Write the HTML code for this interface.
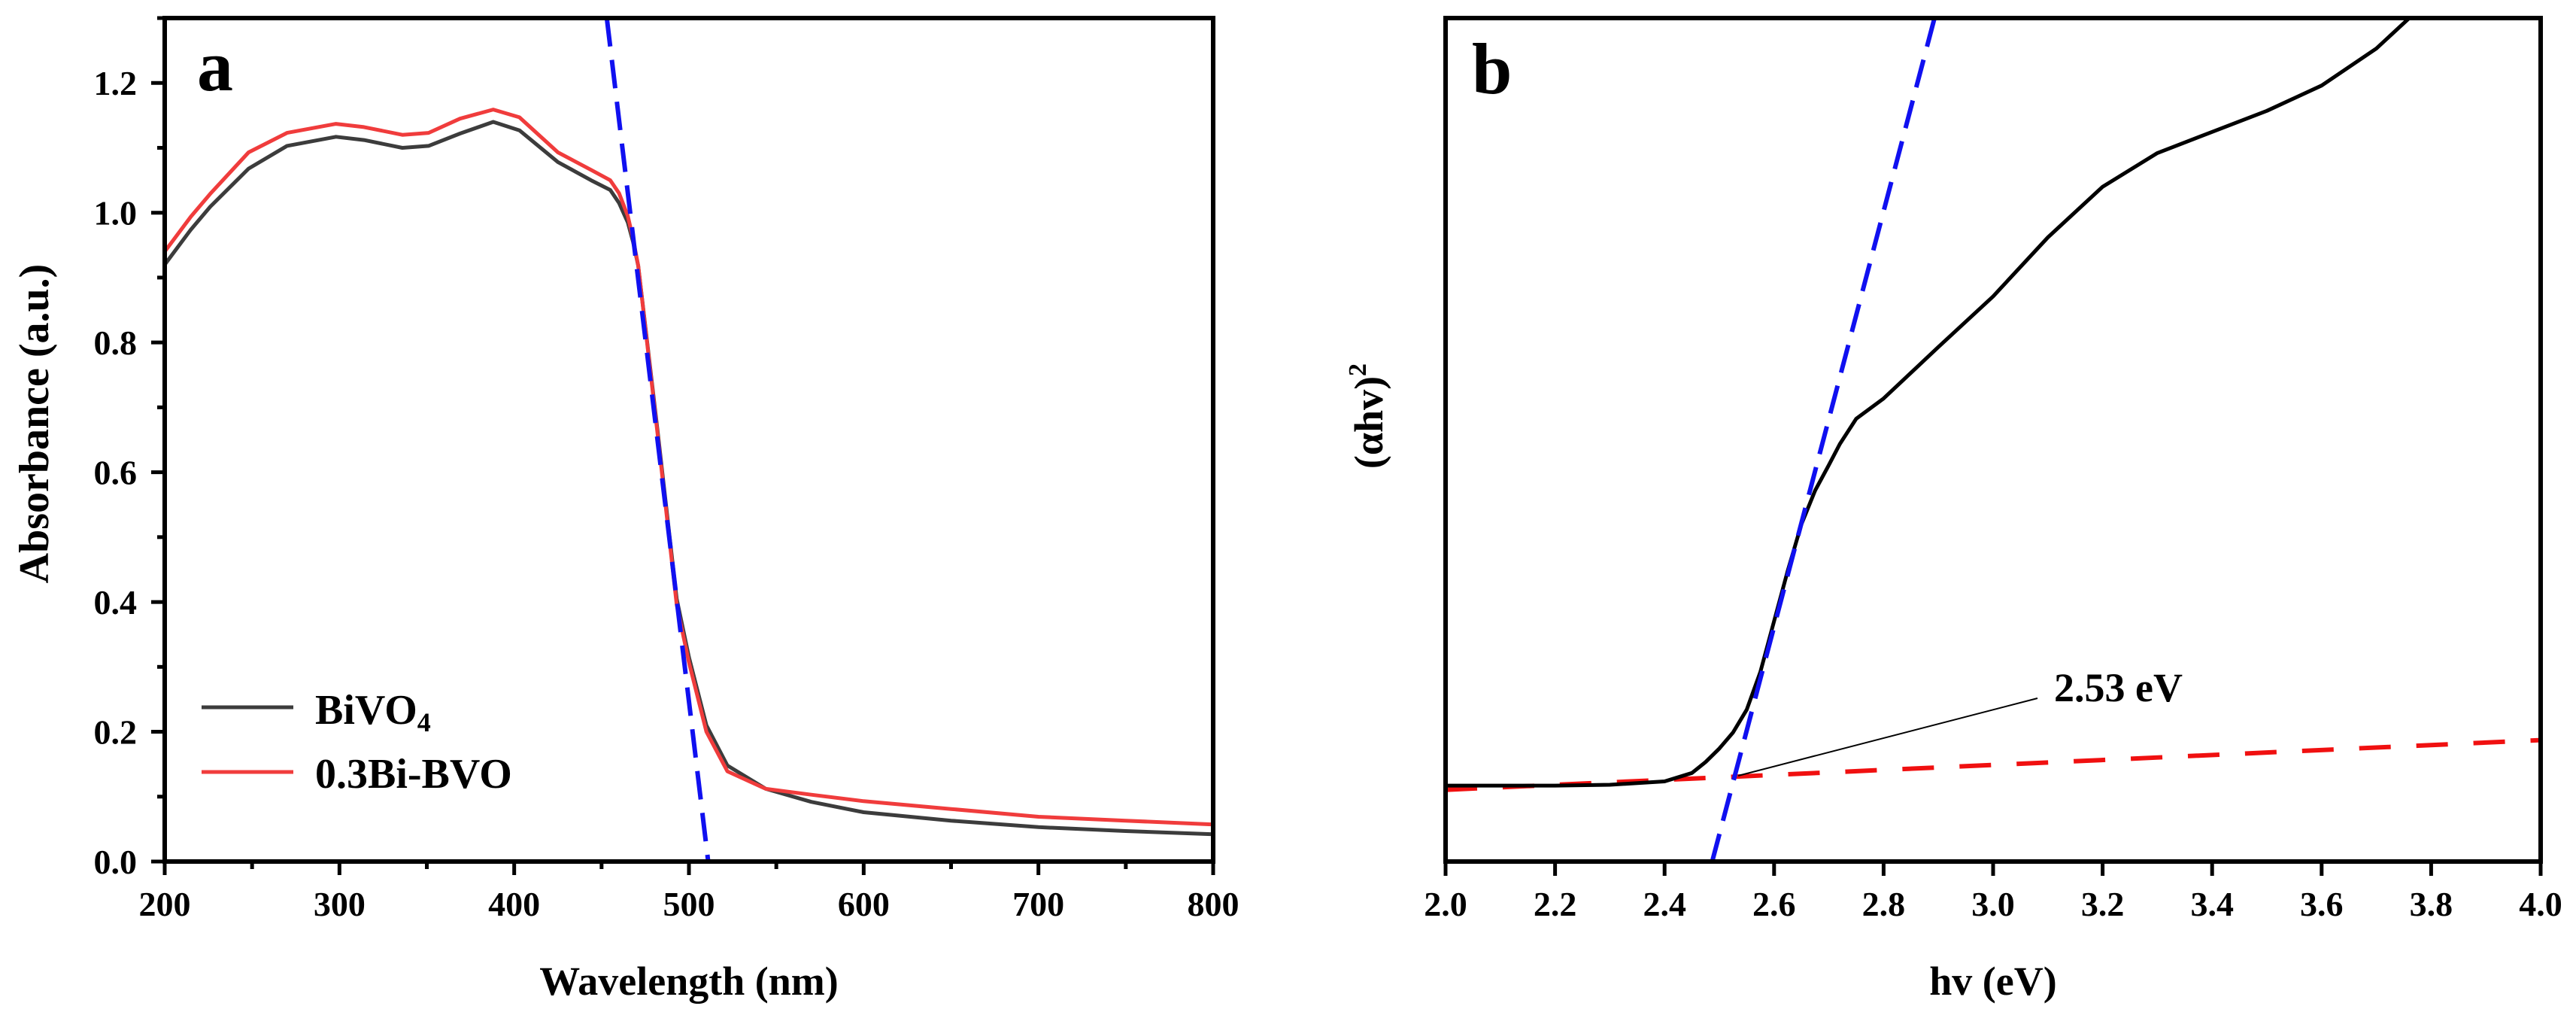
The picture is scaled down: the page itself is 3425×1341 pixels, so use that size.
<!DOCTYPE html>
<html><head><meta charset="utf-8"><style>
html,body{margin:0;padding:0;background:#fff;}
svg{display:block;font-family:"Liberation Serif",serif;font-weight:bold;}
</style></head><body>
<svg id="fig" width="3425" height="1341" viewBox="0 0 3425 1341"></svg>
<script>
// ---- Panel a data ----
const aWavelength = [200,215,226,248,270,298,314,336,351,369,388,403,425,444,455,460,465,468,471,482,493,500,510,522,544,570,600,650,700,750,800];
const aBiVO4 = [0.92,0.974,1.009,1.068,1.103,1.117,1.112,1.10,1.103,1.122,1.14,1.127,1.078,1.05,1.035,1.015,0.985,0.955,0.918,0.665,0.405,0.315,0.21,0.148,0.112,0.092,0.076,0.063,0.053,0.047,0.042];
const aBiBVO = [0.94,0.994,1.029,1.093,1.123,1.137,1.132,1.12,1.123,1.145,1.159,1.147,1.093,1.066,1.05,1.03,0.995,0.96,0.918,0.66,0.396,0.307,0.20,0.139,0.112,0.103,0.093,0.081,0.069,0.063,0.057];
const aFitX = [453,511];
const aFitY = [1.3,0.0];
const aXTicks = [200,300,400,500,600,700,800];
const aYTicks = [0.0,0.2,0.4,0.6,0.8,1.0,1.2];
// ---- Panel b data (y in relative units 0..1) ----
const bEnergy = [2.0,2.2,2.3,2.4,2.45,2.475,2.5,2.525,2.55,2.575,2.6,2.625,2.65,2.675,2.7,2.72,2.735,2.75,2.8,2.9,3.0,3.1,3.2,3.3,3.4,3.5,3.6,3.7,3.76];
const bSignal = [0.09,0.09,0.091,0.095,0.105,0.118,0.134,0.153,0.18,0.225,0.285,0.345,0.40,0.44,0.47,0.495,0.51,0.525,0.549,0.61,0.67,0.74,0.80,0.84,0.865,0.89,0.92,0.964,1.0];
const bBaseX = [2.0,4.0];
const bBaseY = [0.085,0.144];
const bFitX = [2.487,2.893];
const bFitY = [0.0,1.0];
const bXTicks = [2.0,2.2,2.4,2.6,2.8,3.0,3.2,3.4,3.6,3.8,4.0];

const NS="http://www.w3.org/2000/svg";
const svg=document.getElementById('fig');
function mk(tag,attrs,parent){const e=document.createElementNS(NS,tag);for(const k in attrs)e.setAttribute(k,attrs[k]);(parent||svg).appendChild(e);return e;}

const A={x0:219,x1:1613,y0:1145,y1:24,xmin:200,xmax:800,ymin:0,ymax:1.3};
const sx=(P,v)=>P.x0+(v-P.xmin)/(P.xmax-P.xmin)*(P.x1-P.x0);
const sy=(P,v)=>P.y0-(v-P.ymin)/(P.ymax-P.ymin)*(P.y0-P.y1);

const defs=mk('defs',{});
const ca=mk('clipPath',{id:'clipA'},defs);mk('rect',{x:A.x0,y:A.y1,width:A.x1-A.x0,height:A.y0-A.y1},ca);
const cb=mk('clipPath',{id:'clipB'},defs);mk('rect',{x:1922,y:24,width:1456,height:1121},cb);

function pathD(P,xs,ys){return xs.map((x,i)=>(i?'L':'M')+sx(P,x).toFixed(1)+' '+sy(P,ys[i]).toFixed(1)).join(' ');}

const gA=mk('g',{});


const sA=mk('g',{'clip-path':'url(#clipA)'},gA);
const l1=mk('path',{d:pathD(A,aWavelength,aBiVO4),fill:'none',stroke:'#3c3c3c','stroke-width':5,'stroke-linejoin':'round'},sA);


const l2=mk('path',{d:pathD(A,aWavelength,aBiBVO),fill:'none',stroke:'#f03c3c','stroke-width':5,'stroke-linejoin':'round'},sA);


const f1=mk('path',{d:pathD(A,aFitX,aFitY),fill:'none',stroke:'#1010f0','stroke-width':6,'stroke-dasharray':'38 18'},sA);


const frA=mk('rect',{x:A.x0,y:A.y1,width:A.x1-A.x0,height:A.y0-A.y1,fill:'none',stroke:'#000','stroke-width':6},gA);


aXTicks.forEach((t,i)=>{
  const x=sx(A,t);
  const tk=mk('line',{x1:x,x2:x,y1:A.y0,y2:A.y0+18,stroke:'#000','stroke-width':5},gA);
  
  
  if(i<aXTicks.length-1){const xm=sx(A,t+50);const mt=mk('line',{x1:xm,x2:xm,y1:A.y0,y2:A.y0+10,stroke:'#000','stroke-width':5},gA);
    
    }
  const lb=mk('text',{x:x,y:1217,'text-anchor':'middle','font-size':46},gA);lb.textContent=String(t);
  
  
});
aYTicks.forEach((t,i)=>{
  const y=sy(A,t);
  const tk=mk('line',{x1:A.x0-18,x2:A.x0,y1:y,y2:y,stroke:'#000','stroke-width':5},gA);
  
  
  const ym=sy(A,t+0.1);const mt=mk('line',{x1:A.x0-10,x2:A.x0,y1:ym,y2:ym,stroke:'#000','stroke-width':5},gA);
  
  
  const lb=mk('text',{x:182,y:y+16,'text-anchor':'end','font-size':46},gA);lb.textContent=t.toFixed(1);
  
  
});
</script>
<script>
(function(){
const NS="http://www.w3.org/2000/svg";const svg=document.getElementById('fig');
function t(x,y,s,size,name,extra){const e=document.createElementNS(NS,'text');e.setAttribute('x',x);e.setAttribute('y',y);e.setAttribute('font-size',size);if(extra)for(const k in extra)e.setAttribute(k,extra[k]);e.innerHTML=s;svg.appendChild(e);


return e;}
t(262,120,'a',96,'panel-label-a');
t(916,1322,'Wavelength (nm)',54,'x-axis-title-a',{'text-anchor':'middle'});
t(0,0,'Absorbance (a.u.)',56,'y-axis-title-a',{'text-anchor':'middle',transform:'translate(64,563) rotate(-90)'});
const lg=document.createElementNS(NS,'g');svg.appendChild(lg);


const a1=document.createElementNS(NS,'line');a1.setAttribute('x1',268);a1.setAttribute('x2',390);a1.setAttribute('y1',940);a1.setAttribute('y2',940);a1.setAttribute('stroke','#3c3c3c');a1.setAttribute('stroke-width',5);lg.appendChild(a1);


const a2=document.createElementNS(NS,'line');a2.setAttribute('x1',268);a2.setAttribute('x2',390);a2.setAttribute('y1',1026);a2.setAttribute('y2',1026);a2.setAttribute('stroke','#f03c3c');a2.setAttribute('stroke-width',5);lg.appendChild(a2);


t(419,962,'BiVO<tspan font-size="36" dy="10">4</tspan>',56,'legend-entry-bivo4');
t(419,1047,'0.3Bi-BVO',56,'legend-entry-bi-bvo');
t(1957,124,'b',96,'panel-label-b');
t(2650,1322,'hv (eV)',54,'x-axis-title-b',{'text-anchor':'middle'});
t(0,0,'(αhv)<tspan font-size="34" dy="-22">2</tspan>',54,'y-axis-title-b',{'text-anchor':'middle',transform:'translate(1838,553) rotate(-90)'});
t(2731,932,'2.53 eV',54,'bandgap-annotation');
})();
</script>
<script>
(function(){
const NS="http://www.w3.org/2000/svg";const svg=document.getElementById('fig');
function mk(tag,attrs,parent){const e=document.createElementNS(NS,tag);for(const k in attrs)e.setAttribute(k,attrs[k]);(parent||svg).appendChild(e);return e;}
const B={x0:1922,x1:3378,y0:1145,y1:24,xmin:2.0,xmax:4.0,ymin:0,ymax:1.0};
const sx=v=>B.x0+(v-B.xmin)/(B.xmax-B.xmin)*(B.x1-B.x0);
const sy=v=>B.y0-(v-B.ymin)/(B.ymax-B.ymin)*(B.y0-B.y1);
function pathD(xs,ys){return xs.map((x,i)=>(i?'L':'M')+sx(x).toFixed(1)+' '+sy(ys[i]).toFixed(1)).join(' ');}
const gB=mk('g',{});


const s=mk('g',{'clip-path':'url(#clipB)'},gB);
const base=mk('path',{d:pathD(bBaseX,bBaseY),fill:'none',stroke:'#f01010','stroke-width':6,'stroke-dasharray':'42 34'},s);


const sig=mk('path',{d:pathD(bEnergy,bSignal),fill:'none',stroke:'#000','stroke-width':5,'stroke-linejoin':'round'},s);


const fit=mk('path',{d:pathD(bFitX,bFitY),fill:'none',stroke:'#1010f0','stroke-width':6,'stroke-dasharray':'38 18'},s);


const ann=mk('line',{x1:2311,y1:1031,x2:2709,y2:928,stroke:'#000','stroke-width':2},gB);


const fr=mk('rect',{x:B.x0,y:B.y1,width:B.x1-B.x0,height:B.y0-B.y1,fill:'none',stroke:'#000','stroke-width':6},gB);


bXTicks.forEach(t=>{
  const x=sx(t);
  const tk=mk('line',{x1:x,x2:x,y1:B.y0,y2:B.y0+19,stroke:'#000','stroke-width':5},gB);
  
  
  const lb=mk('text',{x:x,y:1217,'text-anchor':'middle','font-size':46},gB);lb.textContent=t.toFixed(1);
  
  
});
})();
</script>
</body></html>
